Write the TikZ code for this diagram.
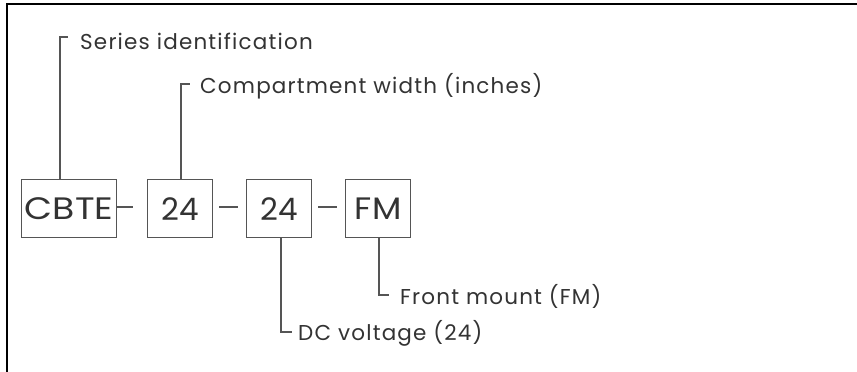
\documentclass[tikz,border=0pt]{standalone}
\usepackage{fontspec}
\setmainfont{Poppins}
\newfontfamily\lblfont[LetterSpace=5.5]{Poppins}
\definecolor{txt}{HTML}{333333}
\definecolor{ln}{HTML}{555555}
\begin{document}
\begin{tikzpicture}[x=1pt,y=-1pt,
  codebox/.style={draw=ln,line width=1.2pt,minimum height=58pt,inner sep=0pt,font=\fontsize{31}{31}\selectfont,text=txt,anchor=north west},
  lbl/.style={anchor=west,inner sep=0pt,font=\lblfont\fontsize{21.5}{21.5}\selectfont,text=txt},
  lead/.style={draw=ln,line width=1.2pt}]
\useasboundingbox (0,0) rectangle (857,372);
\draw[line width=2.2pt,black] (7,372) -- (7,4) -- (857,4);
\node[codebox,minimum width=95pt] (b1) at (21,179) {\scalebox{1.17}[1]{CBTE}};
\node[codebox,minimum width=65pt] (b2) at (147,179) {24};
\node[codebox,minimum width=65pt] (b3) at (246,179) {24};
\node[codebox,minimum width=65pt] (b4) at (345,179) {\scalebox{1.1}[1]{FM}};
\coordinate (d1a) at (116,207); \coordinate (d1b) at (133,207);
\coordinate (d2a) at (219,207); \coordinate (d2b) at (238,207);
\coordinate (d3a) at (318,207); \coordinate (d3b) at (337,207);
\draw[lead] (d1a) -- (d1b);
\draw[lead] (d2a) -- (d2b);
\draw[lead] (d3a) -- (d3b);
\node[lbl] (t1) at (80,41) {Series identification};
\node[lbl] (t2) at (200,86) {Compartment width (inches)};
\node[lbl] (t3) at (400,296) {Front mount (FM)};
\node[lbl] (t4) at (298,333) {DC voltage (24)};
\coordinate (c1) at (60,37); \coordinate (c1e) at (68,37);
\coordinate (c2) at (181,84); \coordinate (c2e) at (190,84);
\coordinate (c3) at (379,295); \coordinate (c3e) at (389,295);
\coordinate (c4) at (281,332); \coordinate (c4e) at (292,332);
\draw[lead] (b1.north -| c1) -- (c1) -- (c1e);
\draw[lead] (b2.north -| c2) -- (c2) -- (c2e);
\draw[lead] (b4.south -| c3) -- (c3) -- (c3e);
\draw[lead] (b3.south -| c4) -- (c4) -- (c4e);
\end{tikzpicture}
\end{document}
